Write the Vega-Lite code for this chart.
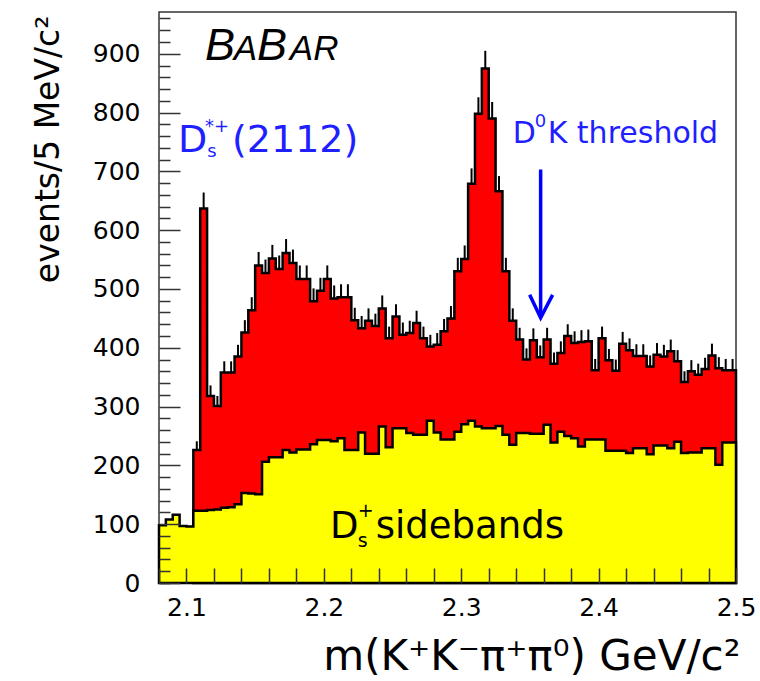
{
  "$schema": "https://vega.github.io/schema/vega-lite/v6.json",
  "width": 577,
  "height": 571,
  "autosize": {"type": "none"},
  "padding": {"left": 159, "top": 12, "right": 24, "bottom": 98},
  "background": "white",
  "config": {"view": {"stroke": "#333", "strokeWidth": 1.5}, "font": "DejaVu Sans"},
  "resolve": {"axis": {"x": "independent", "y": "independent"}},
  "datasets": {
    "tot": [
      {"m":2.105,"v":226,"hi":241},{"m":2.110,"v":637,"hi":664},{"m":2.115,"v":318,"hi":336},{"m":2.120,"v":301,"hi":318},
      {"m":2.125,"v":358,"hi":377},{"m":2.130,"v":358,"hi":377},{"m":2.135,"v":385,"hi":405},{"m":2.140,"v":426,"hi":447},
      {"m":2.145,"v":464,"hi":486},{"m":2.150,"v":540,"hi":563},{"m":2.155,"v":527,"hi":550},{"m":2.160,"v":552,"hi":575},
      {"m":2.165,"v":534,"hi":557},{"m":2.170,"v":561,"hi":585},{"m":2.175,"v":544,"hi":567},{"m":2.180,"v":517,"hi":540},
      {"m":2.185,"v":517,"hi":540},{"m":2.190,"v":479,"hi":501},{"m":2.195,"v":497,"hi":519},{"m":2.200,"v":517,"hi":540},
      {"m":2.205,"v":484,"hi":506},{"m":2.210,"v":486,"hi":508},{"m":2.215,"v":486,"hi":508},{"m":2.220,"v":447,"hi":468},
      {"m":2.225,"v":433,"hi":454},{"m":2.230,"v":446,"hi":467},{"m":2.235,"v":437,"hi":458},{"m":2.240,"v":467,"hi":489},
      {"m":2.245,"v":416,"hi":436},{"m":2.250,"v":453,"hi":474},{"m":2.255,"v":422,"hi":443},{"m":2.260,"v":425,"hi":446},
      {"m":2.265,"v":442,"hi":463},{"m":2.270,"v":416,"hi":436},{"m":2.275,"v":402,"hi":422},{"m":2.280,"v":405,"hi":425},
      {"m":2.285,"v":428,"hi":449},{"m":2.290,"v":450,"hi":471},{"m":2.295,"v":530,"hi":553},{"m":2.300,"v":551,"hi":574},
      {"m":2.305,"v":679,"hi":705},{"m":2.310,"v":798,"hi":826},{"m":2.315,"v":875,"hi":905},{"m":2.320,"v":790,"hi":818},
      {"m":2.325,"v":666,"hi":692},{"m":2.330,"v":530,"hi":553},{"m":2.335,"v":446,"hi":467},{"m":2.340,"v":414,"hi":434},
      {"m":2.345,"v":380,"hi":399},{"m":2.350,"v":413,"hi":433},{"m":2.355,"v":384,"hi":404},{"m":2.360,"v":414,"hi":434},
      {"m":2.365,"v":373,"hi":392},{"m":2.370,"v":391,"hi":411},{"m":2.375,"v":420,"hi":440},{"m":2.380,"v":408,"hi":428},
      {"m":2.385,"v":410,"hi":430},{"m":2.390,"v":411,"hi":431},{"m":2.395,"v":362,"hi":381},{"m":2.400,"v":416,"hi":436},
      {"m":2.405,"v":379,"hi":398},{"m":2.410,"v":361,"hi":380},{"m":2.415,"v":407,"hi":427},{"m":2.420,"v":396,"hi":416},
      {"m":2.425,"v":386,"hi":406},{"m":2.430,"v":386,"hi":406},{"m":2.435,"v":368,"hi":387},{"m":2.440,"v":388,"hi":408},
      {"m":2.445,"v":385,"hi":405},{"m":2.450,"v":394,"hi":414},{"m":2.455,"v":377,"hi":396},{"m":2.460,"v":342,"hi":360},
      {"m":2.465,"v":360,"hi":379},{"m":2.470,"v":354,"hi":373},{"m":2.475,"v":364,"hi":383},{"m":2.480,"v":387,"hi":407},
      {"m":2.485,"v":365,"hi":384},{"m":2.490,"v":362,"hi":381},{"m":2.495,"v":362,"hi":381},{"m":2.500,"v":362}
    ],
    "sb": [
      {"m":2.080,"v":98},{"m":2.085,"v":108},{"m":2.090,"v":116},{"m":2.095,"v":97},{"m":2.100,"v":96},
      {"m":2.105,"v":123},{"m":2.110,"v":123},{"m":2.115,"v":124},{"m":2.120,"v":125},{"m":2.125,"v":128},
      {"m":2.130,"v":129},{"m":2.135,"v":134},{"m":2.140,"v":153},{"m":2.145,"v":152},{"m":2.150,"v":151},
      {"m":2.155,"v":206},{"m":2.160,"v":214},{"m":2.165,"v":214},{"m":2.170,"v":226},{"m":2.175,"v":222},
      {"m":2.180,"v":227},{"m":2.185,"v":227},{"m":2.190,"v":236},{"m":2.195,"v":243},{"m":2.200,"v":243},
      {"m":2.205,"v":241},{"m":2.210,"v":246},{"m":2.215,"v":226},{"m":2.220,"v":226},{"m":2.225,"v":256},
      {"m":2.230,"v":220},{"m":2.235,"v":220},{"m":2.240,"v":266},{"m":2.245,"v":231},{"m":2.250,"v":263},
      {"m":2.255,"v":263},{"m":2.260,"v":255},{"m":2.265,"v":252},{"m":2.270,"v":252},{"m":2.275,"v":276},
      {"m":2.280,"v":256},{"m":2.285,"v":244},{"m":2.290,"v":244},{"m":2.295,"v":257},{"m":2.300,"v":270},
      {"m":2.305,"v":276},{"m":2.310,"v":266},{"m":2.315,"v":263},{"m":2.320,"v":263},{"m":2.325,"v":267},
      {"m":2.330,"v":252},{"m":2.335,"v":235},{"m":2.340,"v":255},{"m":2.345,"v":255},{"m":2.350,"v":254},
      {"m":2.355,"v":254},{"m":2.360,"v":269},{"m":2.365,"v":239},{"m":2.370,"v":257},{"m":2.375,"v":250},
      {"m":2.380,"v":246},{"m":2.385,"v":232},{"m":2.390,"v":244},{"m":2.395,"v":244},{"m":2.400,"v":244},
      {"m":2.405,"v":225},{"m":2.410,"v":225},{"m":2.415,"v":225},{"m":2.420,"v":221},{"m":2.425,"v":229},
      {"m":2.430,"v":229},{"m":2.435,"v":219},{"m":2.440,"v":234},{"m":2.445,"v":234},{"m":2.450,"v":229},
      {"m":2.455,"v":240},{"m":2.460,"v":221},{"m":2.465,"v":222},{"m":2.470,"v":222},{"m":2.475,"v":229},
      {"m":2.480,"v":229},{"m":2.485,"v":201},{"m":2.490,"v":239},{"m":2.495,"v":239},{"m":2.500,"v":239}
    ],
    "babarBig": [{"m":2.1135,"v":890,"t":"B"},{"m":2.1513,"v":890,"t":"B"}],
    "babarSmall": [{"m":2.1345,"v":890,"t":"A"},{"m":2.1752,"v":890,"t":"AR"}],
    "blueBig": [{"m":2.0938,"v":733,"t":"D"},{"m":2.1331,"v":733,"t":"(2112)"}],
    "blueMid": [{"m":2.3375,"v":749,"t":"D"},{"m":2.3629,"v":749,"t":"K threshold"}],
    "blueSmall": [{"m":2.1135,"v":767,"t":"*+"},{"m":2.1152,"v":724,"t":"s"},{"m":2.3535,"v":776,"t":"0"}],
    "blackBig": [{"m":2.2044,"v":77,"t":"D"},{"m":2.2378,"v":77,"t":"sidebands"}],
    "blackSmall": [{"m":2.2247,"v":112,"t":"+"},{"m":2.2247,"v":62,"t":"s"}],
    "shaft": [{"m":2.3578,"v":703,"k":0},{"m":2.3578,"v":451,"k":1}],
    "head": [{"m":2.3498,"v":490,"k":0},{"m":2.3578,"v":451,"k":1},{"m":2.3665,"v":490,"k":2}]
  },
  "layer": [
    {
      "data": {"name": "tot"},
      "mark": {"type": "area", "interpolate": "step-after", "fill": "#ff0000", "stroke": "#000000", "strokeWidth": 2.5},
      "encoding": {
        "x": {"field": "m", "type": "quantitative",
          "scale": {"domain": [2.08, 2.5], "nice": false, "zero": false},
          "axis": {
            "orient": "bottom", "zindex": 1,
            "values": [2.1, 2.2, 2.3, 2.4, 2.5], "format": ".1f",
            "ticks": false, "tickSize": 0, "domain": false, "grid": false,
            "labelFont": "DejaVu Sans", "labelFontSize": 25, "labelColor": "#000", "labelPadding": 12,
            "labelOverlap": false, "labelFlush": false,
            "title": "m(K⁺K⁻π⁺π⁰) GeV/c²", "titleFont": "DejaVu Sans", "titleFontSize": 42, "titleFontWeight": "normal",
            "titleColor": "#000", "titleAnchor": "end", "titleAlign": "right", "titleBaseline": "alphabetic",
            "titleX": 581, "titleY": 86
          }
        },
        "y": {"field": "v", "type": "quantitative",
          "scale": {"domain": [0, 971], "nice": false, "zero": true},
          "axis": {
            "orient": "left", "zindex": 1, "offset": -21,
            "values": [0, 100, 200, 300, 400, 500, 600, 700, 800, 900],
            "tickSize": 21, "tickColor": "#333", "tickWidth": 1.5, "domain": false, "grid": false,
            "labelFont": "DejaVu Sans", "labelFontSize": 25, "labelColor": "#000", "labelPadding": 19,
            "labelOverlap": false, "labelFlush": false,
            "title": "events/5 MeV/c²", "titleFont": "DejaVu Sans", "titleFontSize": 33, "titleFontWeight": "normal",
            "titleColor": "#000", "titleAngle": -90, "titleAlign": "right", "titleBaseline": "alphabetic",
            "titleX": -122, "titleY": 3
          }
        }
      }
    },
    {
      "data": {"name": "tot"},
      "transform": [{"filter": "datum.m < 2.4999"}],
      "mark": {"type": "rule", "color": "#000000", "strokeWidth": 2, "xOffset": 3.44},
      "encoding": {
        "x": {"field": "m", "type": "quantitative",
          "axis": {
            "orient": "bottom", "zindex": 1, "offset": -15,
            "values": [2.08,2.1,2.12,2.14,2.16,2.18,2.2,2.22,2.24,2.26,2.28,2.3,2.32,2.34,2.36,2.38,2.4,2.42,2.44,2.46,2.48,2.5],
            "labels": false, "tickSize": 15, "tickColor": "#333", "tickWidth": 1.5, "domain": false, "grid": false, "title": null
          }
        },
        "y": {"field": "v", "type": "quantitative",
          "axis": {
            "orient": "left", "zindex": 1, "offset": -11,
            "values": [0,20,40,60,80,120,140,160,180,220,240,260,280,320,340,360,380,420,440,460,480,520,540,560,580,620,640,660,680,720,740,760,780,820,840,860,880,920,940,960],
            "labels": false, "tickSize": 11, "tickColor": "#333", "tickWidth": 1.5, "domain": false, "grid": false, "title": null
          }
        },
        "y2": {"field": "hi"}
      }
    },
    {
      "data": {"name": "sb"},
      "mark": {"type": "area", "interpolate": "step-after", "fill": "#ffff00", "stroke": "#000000", "strokeWidth": 2.5},
      "encoding": {
        "x": {"field": "m", "type": "quantitative", "axis": null},
        "y": {"field": "v", "type": "quantitative", "axis": null}
      }
    },
    {
      "data": {"name": "babarBig"},
      "mark": {"type": "text", "font": "Liberation Sans", "fontSize": 45, "fontStyle": "italic", "align": "left", "baseline": "alphabetic", "color": "#000"},
      "encoding": {"x": {"field": "m", "type": "quantitative", "axis": null}, "y": {"field": "v", "type": "quantitative", "axis": null}, "text": {"field": "t"}}
    },
    {
      "data": {"name": "babarSmall"},
      "mark": {"type": "text", "font": "Liberation Sans", "fontSize": 35, "fontStyle": "italic", "align": "left", "baseline": "alphabetic", "color": "#000"},
      "encoding": {"x": {"field": "m", "type": "quantitative", "axis": null}, "y": {"field": "v", "type": "quantitative", "axis": null}, "text": {"field": "t"}}
    },
    {
      "data": {"name": "blueBig"},
      "mark": {"type": "text", "font": "DejaVu Sans", "fontSize": 38, "align": "left", "baseline": "alphabetic", "color": "#1f1fff"},
      "encoding": {"x": {"field": "m", "type": "quantitative", "axis": null}, "y": {"field": "v", "type": "quantitative", "axis": null}, "text": {"field": "t"}}
    },
    {
      "data": {"name": "blueMid"},
      "mark": {"type": "text", "font": "DejaVu Sans", "fontSize": 30, "align": "left", "baseline": "alphabetic", "color": "#1f1fff"},
      "encoding": {"x": {"field": "m", "type": "quantitative", "axis": null}, "y": {"field": "v", "type": "quantitative", "axis": null}, "text": {"field": "t"}}
    },
    {
      "data": {"name": "blueSmall"},
      "mark": {"type": "text", "font": "DejaVu Sans", "fontSize": 18, "align": "left", "baseline": "alphabetic", "color": "#1f1fff"},
      "encoding": {"x": {"field": "m", "type": "quantitative", "axis": null}, "y": {"field": "v", "type": "quantitative", "axis": null}, "text": {"field": "t"}}
    },
    {
      "data": {"name": "blackBig"},
      "mark": {"type": "text", "font": "DejaVu Sans", "fontSize": 37, "align": "left", "baseline": "alphabetic", "color": "#000"},
      "encoding": {"x": {"field": "m", "type": "quantitative", "axis": null}, "y": {"field": "v", "type": "quantitative", "axis": null}, "text": {"field": "t"}}
    },
    {
      "data": {"name": "blackSmall"},
      "mark": {"type": "text", "font": "DejaVu Sans", "fontSize": 19, "align": "left", "baseline": "alphabetic", "color": "#000"},
      "encoding": {"x": {"field": "m", "type": "quantitative", "axis": null}, "y": {"field": "v", "type": "quantitative", "axis": null}, "text": {"field": "t"}}
    },
    {
      "data": {"name": "shaft"},
      "mark": {"type": "line", "color": "#0000ff", "strokeWidth": 3.5},
      "encoding": {"x": {"field": "m", "type": "quantitative", "axis": null}, "y": {"field": "v", "type": "quantitative", "axis": null}, "order": {"field": "k"}}
    },
    {
      "data": {"name": "head"},
      "mark": {"type": "line", "color": "#0000ff", "strokeWidth": 3.5},
      "encoding": {"x": {"field": "m", "type": "quantitative", "axis": null}, "y": {"field": "v", "type": "quantitative", "axis": null}, "order": {"field": "k"}}
    }
  ]
}
